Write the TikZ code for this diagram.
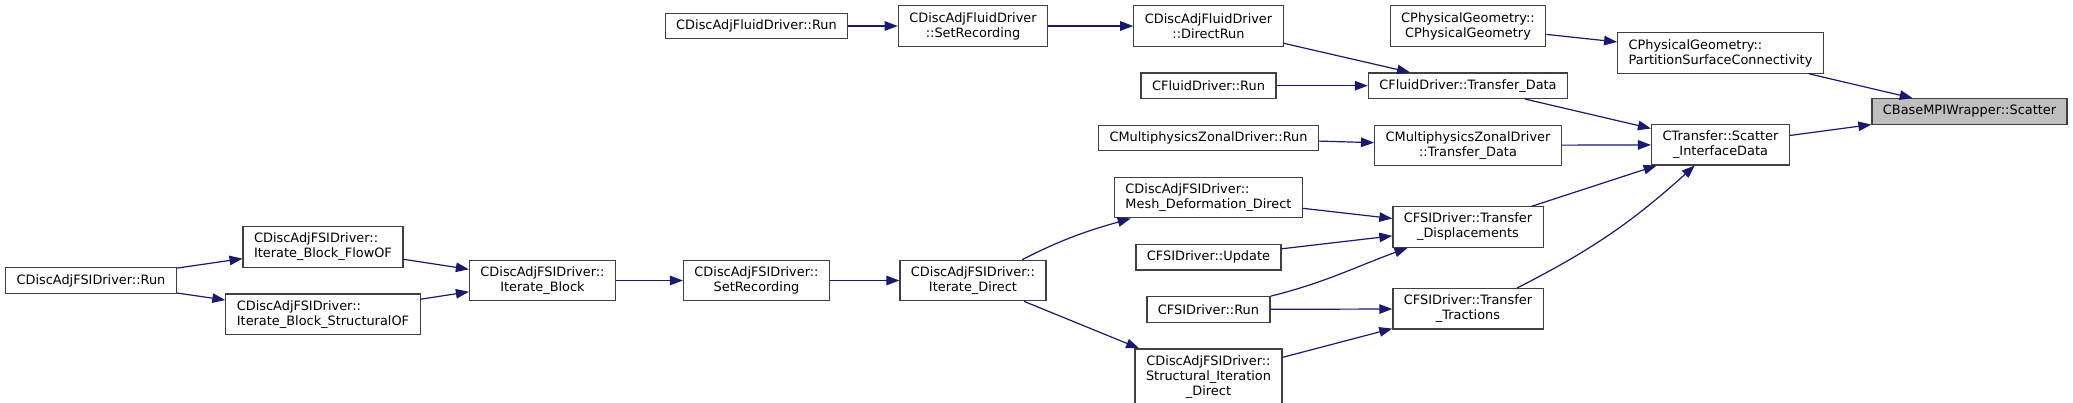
\documentclass[tikz,border=0pt]{standalone}
\usepackage{fontspec}
\setmainfont{DejaVu Sans}
\usetikzlibrary{arrows.meta,positioning}
\definecolor{edgeblue}{HTML}{191970}
\definecolor{boxline}{HTML}{404040}
\definecolor{focusfill}{HTML}{BFBFBF}
\tikzset{
  fn/.style={draw=boxline, line width=1.2pt, fill=white, align=center, font=\fontsize{12.9}{15}\selectfont, inner xsep=11pt, inner ysep=3pt, minimum height=25.5pt},
  fn2/.style={fn, minimum height=40.5pt},
  fn3/.style={fn, minimum height=55.5pt},
  lft/.style={align=left},
  focus/.style={fn, fill=focusfill},
  edge/.style={draw=edgeblue, line width=1.2pt, -{Triangle[length=13pt,width=9.5pt]}}}
\begin{document}
\begin{tikzpicture}[x=1pt, y=-1pt, node distance=25.5pt]
  \useasboundingbox (0,0) rectangle (2073,402);
  % FSI adjoint chain
  \node[fn] (fsiRun) at (91,280.5) {CDiscAdjFSIDriver::Run};
  \node[fn2, lft] (flowOF) at (323,247) {CDiscAdjFSIDriver::\\Iterate\_Block\_FlowOF};
  \node[fn2, lft, below=of flowOF] (structOF) {CDiscAdjFSIDriver::\\Iterate\_Block\_StructuralOF};
  \node[fn2] (iterBlock) at (542.5,280.5) {CDiscAdjFSIDriver::\\Iterate\_Block};
  \node[fn2] (fsiSetRec) at (756.5,280.5) {CDiscAdjFSIDriver::\\SetRecording};
  \node[fn2] (iterDirect) at (973,280.5) {CDiscAdjFSIDriver::\\Iterate\_Direct};
  % fluid adjoint chain
  \node[fn] (fluidRun) at (756.5,26) {CDiscAdjFluidDriver::Run};
  \node[fn2] (fluidSetRec) at (973,26) {CDiscAdjFluidDriver\\::SetRecording};
  % callers of the transfer routines
  \node[fn2] (directRun) at (1208.5,26) {CDiscAdjFluidDriver\\::DirectRun};
  \node[fn, below=of directRun] (fluidDrvRun) {CFluidDriver::Run};
  \node[fn, below=of fluidDrvRun] (mzdRun) {CMultiphysicsZonalDriver::Run};
  \node[fn2, lft, below=of mzdRun] (meshDef) {CDiscAdjFSIDriver::\\Mesh\_Deformation\_Direct};
  \node[fn, below=of meshDef] (fsiUpdate) {CFSIDriver::Update};
  \node[fn, below=of fsiUpdate] (fsiDrvRun) {CFSIDriver::Run};
  \node[fn3, below=of fsiDrvRun] (structIter) {CDiscAdjFSIDriver::\\Structural\_Iteration\\\_Direct};
  % transfer routines
  \node[fn2] (physGeo) at (1468,26) {CPhysicalGeometry::\\CPhysicalGeometry};
  \node[fn, below=of physGeo] (fluidTransfer) {CFluidDriver::Transfer\_Data};
  \node[fn2, below=of fluidTransfer] (mzdTransfer) {CMultiphysicsZonalDriver\\::Transfer\_Data};
  \node[fn2, below=40pt of mzdTransfer] (transDisp) {CFSIDriver::Transfer\\\_Displacements};
  \node[fn2, below=40pt of transDisp] (transTract) {CFSIDriver::Transfer\\\_Tractions};
  \node[fn2, lft] (partSurf) at (1720.5,53) {CPhysicalGeometry::\\PartitionSurfaceConnectivity};
  \node[fn2, below=50pt of partSurf] (scatterIface) {CTransfer::Scatter\\\_InterfaceData};
  \node[focus] (mpiScatter) at (1969.5,111.5) {CBaseMPIWrapper::Scatter};
  % calls
  \draw[edge] (fsiRun) -- (flowOF);
  \draw[edge] (fsiRun) -- (structOF);
  \draw[edge] (flowOF) -- (iterBlock);
  \draw[edge] (structOF) -- (iterBlock);
  \draw[edge] (iterBlock) -- (fsiSetRec);
  \draw[edge] (fsiSetRec) -- (iterDirect);
  \draw[edge] (iterDirect.23) to[out=27, in=196] (meshDef.195);
  \draw[edge] (iterDirect) -- (structIter);
  \draw[edge] (fluidRun) -- (fluidSetRec);
  \draw[edge] (fluidSetRec) -- (directRun);
  \draw[edge] (directRun) -- (fluidTransfer);
  \draw[edge] (fluidDrvRun) -- (fluidTransfer);
  \draw[edge] (mzdRun) -- (mzdTransfer);
  \draw[edge] (meshDef) -- (transDisp);
  \draw[edge] (fsiUpdate) -- (transDisp);
  \draw[edge] (fsiDrvRun.north east) to[out=14, in=200] (transDisp.199);
  \draw[edge] (fsiDrvRun) -- (transTract);
  \draw[edge] (structIter) -- (transTract);
  \draw[edge] (physGeo) -- (partSurf);
  \draw[edge] (partSurf) -- (mpiScatter);
  \draw[edge] (fluidTransfer) -- (scatterIface);
  \draw[edge] (mzdTransfer) -- (scatterIface);
  \draw[edge] (transDisp) -- (scatterIface);
  \draw[edge] (transTract.23) to[out=27, in=222] (scatterIface.219);
  \draw[edge] (scatterIface) -- (mpiScatter);
\end{tikzpicture}
\end{document}
